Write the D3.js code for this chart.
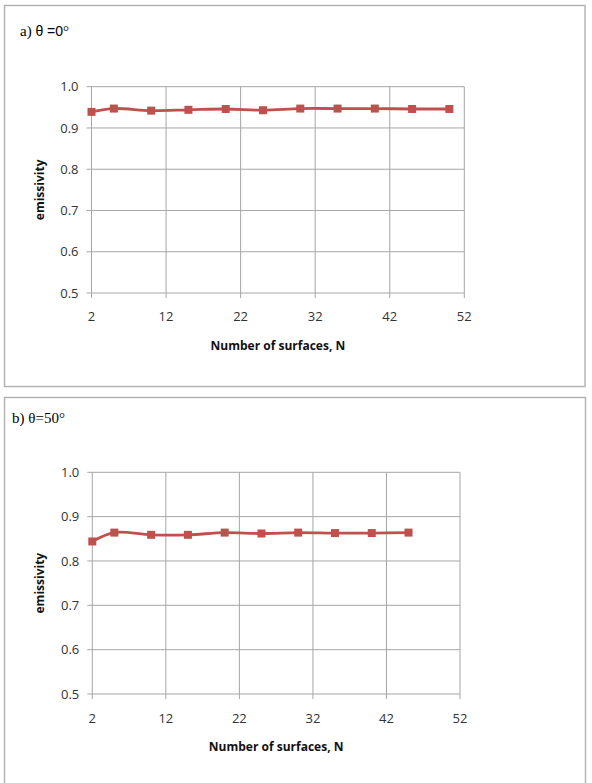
<!DOCTYPE html>
<html><head><meta charset="utf-8">
<script src="https://cdn.jsdelivr.net/npm/d3@7"></script>
<style>body{margin:0;background:#fff}svg{display:block}</style>
</head><body>
<svg id="c" width="592" height="783"></svg>
<script>
const xTicks = [2, 12, 22, 32, 42, 52];
const yTicks = [0.5, 0.6, 0.7, 0.8, 0.9, 1.0];
const nA = [2, 5, 10, 15, 20, 25, 30, 35, 40, 45, 50];
const emA = [0.939, 0.947, 0.942, 0.944, 0.946, 0.943, 0.947, 0.947, 0.947, 0.946, 0.946];
const nB = [2, 5, 10, 15, 20, 25, 30, 35, 40, 45];
const emB = [0.844, 0.864, 0.859, 0.859, 0.864, 0.862, 0.864, 0.863, 0.863, 0.864];

const svg = d3.select("#c");
const grid = "#a6a6a6", red = "#C0504D";
const lab = "'Open Sans', sans-serif";

// frames
svg.append("rect").attr("x",4.5).attr("y",5.5).attr("width",580.5).attr("height",381)
  .attr("fill","none").attr("stroke","#b4b4b4").attr("stroke-width",1.5);
svg.append("rect").attr("x",4.5).attr("y",397.5).attr("width",581).attr("height",400)
  .attr("fill","none").attr("stroke","#b4b4b4").attr("stroke-width",1.5);

// titles
const ta = svg.append("text").attr("x",20).attr("y",36).attr("font-size",15)
  .attr("font-family","'Liberation Serif', serif").attr("fill","#000");
ta.append("tspan").text("a) ");
ta.append("tspan").attr("font-family","'Liberation Sans', sans-serif").attr("font-size",14).text("θ =0");
ta.append("tspan").text("°");
svg.append("text").attr("x",12).attr("y",423).attr("font-size",15)
  .attr("font-family","'Liberation Serif', serif").attr("fill","#000").text("b) θ=50°");

function panel(cfg, ns, vals){
  const x = d3.scaleLinear().domain([2,52]).range([cfg.x0, cfg.x1]);
  const y = d3.scaleLinear().domain([0.5,1.0]).range([cfg.y0, cfg.y1]);
  const g = svg.append("g");
  g.selectAll(".hg").data(yTicks).join("line")
    .attr("x1",x(2)-5).attr("x2",x(52)).attr("y1",d=>y(d)).attr("y2",d=>y(d))
    .attr("stroke",grid).attr("stroke-width",1);
  g.selectAll(".vg").data(xTicks).join("line")
    .attr("x1",d=>x(d)).attr("x2",d=>x(d)).attr("y1",y(1.0)).attr("y2",y(0.5)+5)
    .attr("stroke",grid).attr("stroke-width",1);
  g.selectAll(".yl").data(yTicks).join("text")
    .attr("x",x(2)-13).attr("y",d=>y(d)).attr("dy","0.35em").attr("text-anchor","end")
    .attr("font-family",lab).attr("font-size",13).attr("fill","#333").text(d=>d.toFixed(1));
  g.selectAll(".xl").data(xTicks).join("text")
    .attr("x",d=>x(d)).attr("y",cfg.xl).attr("text-anchor","middle")
    .attr("font-family",lab).attr("font-size",13).attr("fill","#333").text(d=>d);
  g.append("text").attr("x",(x(2)+x(52))/2).attr("y",cfg.xt).attr("text-anchor","middle")
    .attr("font-family",lab).attr("font-weight","bold").attr("font-size",12).attr("fill","#111")
    .text("Number of surfaces, N");
  g.append("text").attr("transform",`translate(44,${(y(0.5)+y(1))/2}) rotate(-90)`)
    .attr("text-anchor","middle")
    .attr("font-family",lab).attr("font-weight","bold").attr("font-size",12).attr("fill","#111")
    .text("emissivity");
  const pts = ns.map((n,i)=>[n, vals[i]]);
  const line = d3.line().x(d=>x(d[0])).y(d=>y(d[1])).curve(d3.curveCatmullRom.alpha(0.5));
  g.append("path").datum(pts).attr("d",line).attr("fill","none")
    .attr("stroke",red).attr("stroke-width",2.8);
  g.selectAll(".m").data(pts).join("rect")
    .attr("x",d=>x(d[0])-4).attr("y",d=>y(d[1])-4).attr("width",8).attr("height",8)
    .attr("fill",red);
}

panel({x0:91.5, x1:464.3, y0:293, y1:86.7, xl:321, xt:350}, nA, emA);
panel({x0:92.3, x1:460, y0:694, y1:472.3, xl:723, xt:751}, nB, emB);
</script>
</body></html>
